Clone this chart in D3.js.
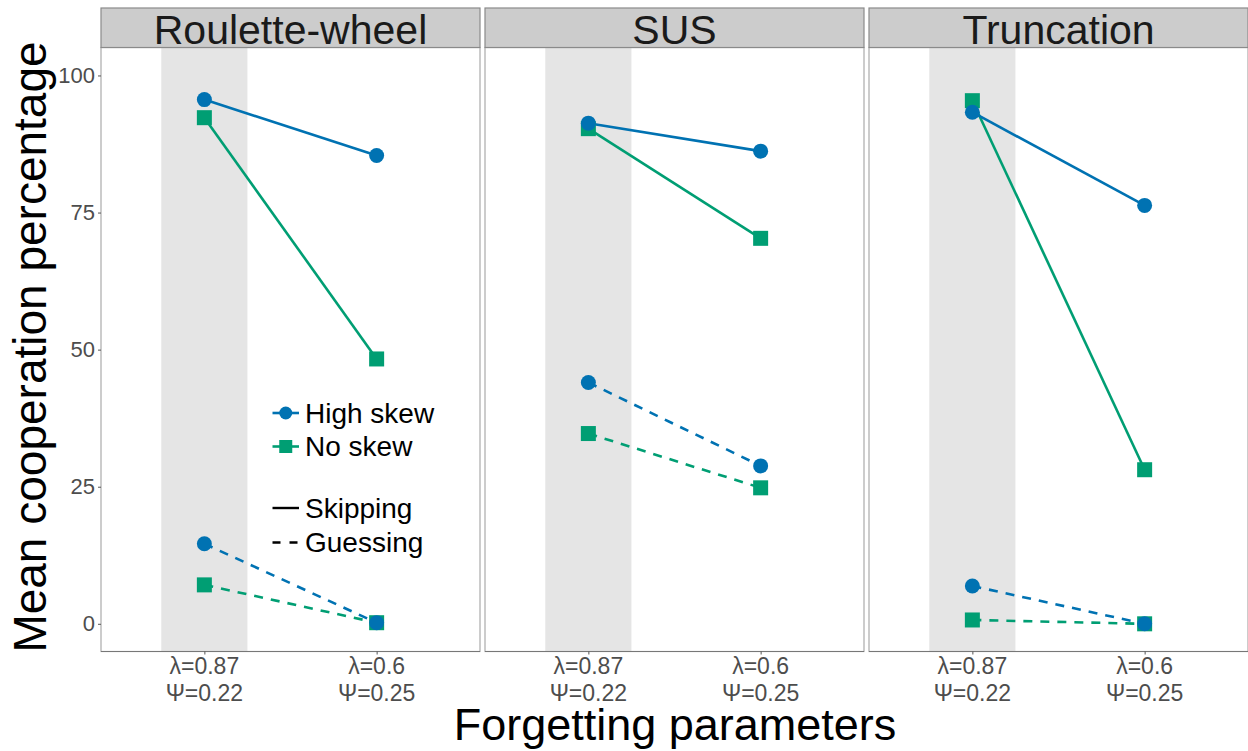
<!DOCTYPE html>
<html>
<head>
<meta charset="utf-8">
<script src="https://cdn.jsdelivr.net/npm/d3@7"></script>
<style>
  html, body { margin: 0; padding: 0; background: #fff; }
  svg { display: block; }
  text { font-family: "Liberation Sans", Arial, Helvetica, sans-serif; }
</style>
</head>
<body>
<svg id="chart" width="1248" height="751"></svg>
<script>
// ---- data ----
const panels = ["Roulette-wheel", "SUS", "Truncation"];
const params = ["p1", "p2"];
const lambdaLabels = ["λ=0.87", "λ=0.6"];
const psiLabels = ["Ψ=0.22", "Ψ=0.25"];
const yTicks = [0, 25, 50, 75, 100];
// values per panel: [λ=0.87, λ=0.6]
const highSkewSkipping = [[95.6, 85.4], [91.3, 86.2], [93.3, 76.3]];
const noSkewSkipping   = [[92.3, 48.3], [90.3, 70.3], [95.4, 28.1]];
const highSkewGuessing = [[14.6, 0.2], [44.0, 28.8], [6.9, 0.0]];
const noSkewGuessing   = [[7.1, 0.2], [34.7, 24.8], [0.7, 0.0]];

const skewNames = ["High skew", "No skew"];
const skewColors = ["#0072B2", "#009E73"];
const methodNames = ["Skipping", "Guessing"];

// ---- layout ----
const svg = d3.select("#chart");
const panelLeft = 101, panelW = 379, panelGap = 5;
const stripTop = 8, panelTop = 47.5, panelBottom = 651.5;

const y = d3.scaleLinear().domain([-5.05, 105.1]).range([panelBottom, panelTop]);
const x = d3.scalePoint().domain(params).range([0, panelW]).padding(0.6);
const step = x.step();

const seriesList = [
  { values: noSkewSkipping, skew: 1, method: 0 },
  { values: noSkewGuessing, skew: 1, method: 1 },
  { values: highSkewSkipping, skew: 0, method: 0 },
  { values: highSkewGuessing, skew: 0, method: 1 }
];

const line = d3.line().x((d, i) => x(params[i])).y(d => y(d));

panels.forEach((name, pi) => {
  const px = panelLeft + pi * (panelW + panelGap);
  const g = svg.append("g").attr("transform", `translate(${px},0)`);

  g.append("rect").attr("x", 0).attr("y", panelTop).attr("width", panelW)
    .attr("height", panelBottom - panelTop).attr("fill", "#fff");

  g.append("rect")
    .attr("x", x(params[0]) - 0.25 * step).attr("y", panelTop)
    .attr("width", 0.5 * step).attr("height", panelBottom - panelTop)
    .attr("fill", "#E5E5E5");

  seriesList.forEach(s => {
    g.append("path").datum(s.values[pi])
      .attr("d", line)
      .attr("fill", "none")
      .attr("stroke", skewColors[s.skew])
      .attr("stroke-width", 2.6)
      .attr("stroke-dasharray", s.method === 1 ? "9,8" : null);
  });
  seriesList.forEach(s => {
    s.values[pi].forEach((v, i) => {
      if (s.skew === 0) {
        g.append("circle").attr("cx", x(params[i])).attr("cy", y(v)).attr("r", 7.5)
          .attr("fill", skewColors[0]);
      } else {
        g.append("rect").attr("x", x(params[i]) - 7.5).attr("y", y(v) - 7.5)
          .attr("width", 15).attr("height", 15).attr("fill", skewColors[1]);
      }
    });
  });

  g.append("rect").attr("x", 0).attr("y", panelTop).attr("width", panelW)
    .attr("height", panelBottom - panelTop)
    .attr("fill", "none").attr("stroke", "#ABABAB").attr("stroke-width", 1.2);
  g.append("line").attr("x1", 0).attr("x2", panelW).attr("y1", panelBottom).attr("y2", panelBottom)
    .attr("stroke", "#777").attr("stroke-width", 1.2);

  g.append("rect").attr("x", 0).attr("y", stripTop).attr("width", panelW)
    .attr("height", panelTop - stripTop)
    .attr("fill", "#CCCCCC").attr("stroke", "#8A8A8A").attr("stroke-width", 1.2);
  g.append("text").attr("x", panelW / 2).attr("y", 43.5)
    .attr("text-anchor", "middle").attr("font-size", 41).attr("fill", "#1A1A1A")
    .text(name);

  const xa = d3.axisBottom(x).tickSize(3).tickFormat("");
  const xg = g.append("g").attr("transform", `translate(0,${panelBottom})`).call(xa);
  xg.select(".domain").remove();
  xg.selectAll(".tick line").attr("stroke", "#555");
  params.forEach((p, i) => {
    g.append("text").attr("x", x(p)).attr("y", 674).attr("text-anchor", "middle")
      .attr("font-size", 23).attr("fill", "#4D4D4D").text(lambdaLabels[i]);
    g.append("text").attr("x", x(p)).attr("y", 700.5).attr("text-anchor", "middle")
      .attr("font-size", 23).attr("fill", "#4D4D4D").text(psiLabels[i]);
  });

  if (pi === 0) {
    const ya = d3.axisLeft(y).tickValues(yTicks).tickSize(3).tickPadding(3);
    const yg = g.append("g").call(ya);
    yg.select(".domain").remove();
    yg.selectAll(".tick line").attr("stroke", "#555");
    yg.selectAll(".tick text").attr("font-size", 22).attr("fill", "#4D4D4D")
      .attr("font-family", "'Liberation Sans', Arial, sans-serif");
  }

  if (pi === 0) {
    const lg = svg.append("g");
    const kx1 = 272.5, kx2 = 299, tx = 305;
    const skewRows = [413, 446.5];
    skewRows.forEach((ry, k) => {
      lg.append("line").attr("x1", kx1).attr("x2", kx2).attr("y1", ry).attr("y2", ry)
        .attr("stroke", skewColors[k]).attr("stroke-width", 2.6);
      if (k === 0) {
        lg.append("circle").attr("cx", (kx1 + kx2) / 2).attr("cy", ry).attr("r", 6.5).attr("fill", skewColors[0]);
      } else {
        lg.append("rect").attr("x", (kx1 + kx2) / 2 - 6.5).attr("y", ry - 6.5)
          .attr("width", 13).attr("height", 13).attr("fill", skewColors[1]);
      }
      lg.append("text").attr("x", tx).attr("y", ry + 9.5).attr("font-size", 28)
        .attr("fill", "#000").text(skewNames[k]);
    });
    const methodRows = [508, 542.5];
    methodRows.forEach((ry, k) => {
      lg.append("line").attr("x1", kx1).attr("x2", kx2).attr("y1", ry).attr("y2", ry)
        .attr("stroke", "#000").attr("stroke-width", 2.4)
        .attr("stroke-dasharray", k === 1 ? "8,9" : null);
      lg.append("text").attr("x", tx).attr("y", ry + 9.5).attr("font-size", 28)
        .attr("fill", "#000").text(methodNames[k]);
    });
  }
});

svg.append("text").attr("x", 675).attr("y", 740).attr("text-anchor", "middle")
  .attr("font-size", 45).attr("fill", "#000").text("Forgetting parameters");
svg.append("text").attr("transform", "translate(46,347) rotate(-90)")
  .attr("text-anchor", "middle").attr("font-size", 46).attr("fill", "#000")
  .text("Mean cooperation percentage");
</script>
</body>
</html>
